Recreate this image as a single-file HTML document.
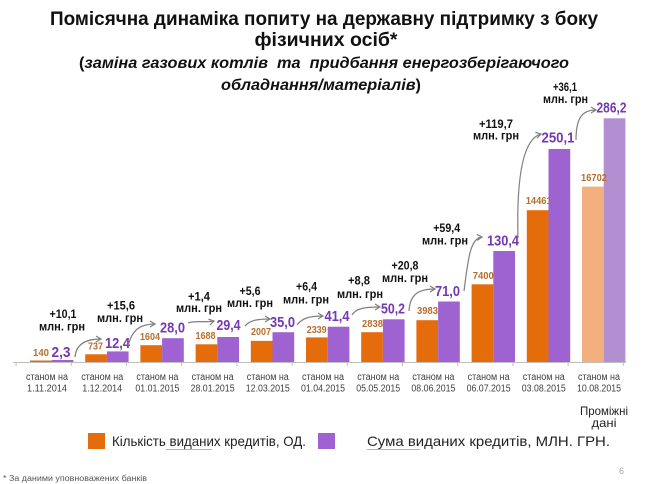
<!DOCTYPE html>
<html>
<head>
<meta charset="utf-8">
<style>
  html,body{margin:0;padding:0;background:#fff;}
  body{width:645px;height:484px;overflow:hidden;}
  svg{display:block;}
  text{font-family:"Liberation Sans","Noto Sans CJK SC",sans-serif;}
</style>
</head>
<body>
<svg width="645" height="484" viewBox="0 0 645 484" xmlns="http://www.w3.org/2000/svg">
  <defs>
    <marker id="ah" markerWidth="8" markerHeight="8" refX="6" refY="4" orient="auto" markerUnits="userSpaceOnUse">
      <path d="M1,1 L6,4 L1,7" fill="none" stroke="#7f7f7f" stroke-width="1.2"/>
    </marker>
  </defs>

  <!-- Title -->
  <text x="324" y="25" text-anchor="middle" font-size="19.5" font-weight="bold" fill="#111" textLength="548" lengthAdjust="spacingAndGlyphs">Помісячна динаміка попиту на державну підтримку з боку</text>
  <text x="326" y="46" text-anchor="middle" font-size="19.5" font-weight="bold" fill="#111" textLength="143" lengthAdjust="spacingAndGlyphs">фізичних осіб*</text>
  <text x="324" y="68" text-anchor="middle" font-size="16" font-weight="bold" fill="#111" textLength="490" lengthAdjust="spacingAndGlyphs">(<tspan font-style="italic">заміна газових котлів &#160;та &#160;придбання енергозберігаючого</tspan></text>
  <text x="321" y="90" text-anchor="middle" font-size="16" font-weight="bold" fill="#111" textLength="200" lengthAdjust="spacingAndGlyphs"><tspan font-style="italic">обладнання/матеріалів</tspan>)</text>

  <!-- Axis -->
  <g stroke="#bfbfbf" stroke-width="1">
    <line x1="13" y1="362.5" x2="626" y2="362.5"/>
    <line x1="16.1" y1="362" x2="16.1" y2="366"/>
    <line x1="71.3" y1="362" x2="71.3" y2="366"/>
    <line x1="126.5" y1="362" x2="126.5" y2="366"/>
    <line x1="181.7" y1="362" x2="181.7" y2="366"/>
    <line x1="236.9" y1="362" x2="236.9" y2="366"/>
    <line x1="292.1" y1="362" x2="292.1" y2="366"/>
    <line x1="347.3" y1="362" x2="347.3" y2="366"/>
    <line x1="402.5" y1="362" x2="402.5" y2="366"/>
    <line x1="457.7" y1="362" x2="457.7" y2="366"/>
    <line x1="512.9" y1="362" x2="512.9" y2="366"/>
    <line x1="568.1" y1="362" x2="568.1" y2="366"/>
    <line x1="623.3" y1="362" x2="623.3" y2="366"/>
  </g>

  <!-- Orange bars -->
  <g fill="#E46C0A">
    <rect x="30" y="360.5" width="21.7" height="1.5"/>
    <rect x="85.2" y="354.3" width="21.7" height="7.7"/>
    <rect x="140.4" y="345.2" width="21.7" height="16.8"/>
    <rect x="195.6" y="344.3" width="21.7" height="17.7"/>
    <rect x="250.8" y="340.9" width="21.7" height="21.1"/>
    <rect x="306" y="337.4" width="21.7" height="24.6"/>
    <rect x="361.2" y="332.2" width="21.7" height="29.8"/>
    <rect x="416.4" y="320.2" width="21.7" height="41.8"/>
    <rect x="471.6" y="284.3" width="21.7" height="77.7"/>
    <rect x="526.8" y="210.2" width="21.7" height="151.8"/>
  </g>
  <rect x="582" y="186.6" width="21.7" height="175.4" fill="#F3B07E"/>

  <!-- Purple bars -->
  <g fill="#9E63D0">
    <rect x="51.7" y="360" width="21.7" height="2"/>
    <rect x="106.9" y="351.4" width="21.7" height="10.6"/>
    <rect x="162.1" y="338.2" width="21.7" height="23.8"/>
    <rect x="217.3" y="337" width="21.7" height="25"/>
    <rect x="272.5" y="332.2" width="21.7" height="29.8"/>
    <rect x="327.7" y="326.7" width="21.7" height="35.3"/>
    <rect x="382.9" y="319.3" width="21.7" height="42.7"/>
    <rect x="438.1" y="301.5" width="21.7" height="60.5"/>
    <rect x="493.3" y="251" width="21.7" height="111"/>
    <rect x="548.5" y="149" width="21.7" height="213"/>
  </g>
  <rect x="603.7" y="118.3" width="21.7" height="243.7" fill="#B28FD1"/>

  <!-- Orange value labels -->
  <g font-size="10" font-weight="bold" fill="#B86E2A" text-anchor="middle">
    <text x="41" y="356" textLength="16" lengthAdjust="spacingAndGlyphs">140</text>
    <text x="95.5" y="349.5" textLength="15" lengthAdjust="spacingAndGlyphs">737</text>
    <text x="150" y="340" textLength="20" lengthAdjust="spacingAndGlyphs">1604</text>
    <text x="205.5" y="339" textLength="20" lengthAdjust="spacingAndGlyphs">1688</text>
    <text x="261" y="335" textLength="20" lengthAdjust="spacingAndGlyphs">2007</text>
    <text x="316.7" y="333" textLength="20" lengthAdjust="spacingAndGlyphs">2339</text>
    <text x="372.5" y="327" textLength="21" lengthAdjust="spacingAndGlyphs">2838</text>
    <text x="427.5" y="314" textLength="21" lengthAdjust="spacingAndGlyphs">3983</text>
    <text x="483.3" y="279" textLength="21" lengthAdjust="spacingAndGlyphs">7400</text>
    <text x="538.7" y="204" textLength="26" lengthAdjust="spacingAndGlyphs">14461</text>
    <text x="594" y="181" textLength="26" lengthAdjust="spacingAndGlyphs">16702</text>
  </g>

  <!-- Purple value labels -->
  <g font-size="14.5" font-weight="bold" fill="#7438B0" text-anchor="middle">
    <text x="61" y="357" textLength="19" lengthAdjust="spacingAndGlyphs">2,3</text>
    <text x="117.5" y="348" textLength="25" lengthAdjust="spacingAndGlyphs">12,4</text>
    <text x="172.5" y="332.5" textLength="25" lengthAdjust="spacingAndGlyphs">28,0</text>
    <text x="228.5" y="330" textLength="24" lengthAdjust="spacingAndGlyphs">29,4</text>
    <text x="282.5" y="327" textLength="25" lengthAdjust="spacingAndGlyphs">35,0</text>
    <text x="337" y="321" textLength="25" lengthAdjust="spacingAndGlyphs">41,4</text>
    <text x="393" y="313.5" textLength="24" lengthAdjust="spacingAndGlyphs">50,2</text>
    <text x="447.5" y="296" textLength="25" lengthAdjust="spacingAndGlyphs">71,0</text>
    <text x="503" y="245.5" textLength="32" lengthAdjust="spacingAndGlyphs">130,4</text>
    <text x="558" y="142.5" textLength="33" lengthAdjust="spacingAndGlyphs">250,1</text>
    <text x="611.5" y="112.5" textLength="30" lengthAdjust="spacingAndGlyphs">286,2</text>
  </g>

  <!-- Arrows -->
  <g fill="none" stroke="#7f7f7f" stroke-width="1.2" marker-end="url(#ah)">
    <path d="M75,357 C76,344 86,339 101,339"/>
    <path d="M128,346 C132,330 140,324 155,324"/>
    <path d="M188,323 C196,320 205,323 214,321"/>
    <path d="M245,326 C250,320 258,319 270,319"/>
    <path d="M297,325 C302,318 310,316 323,316"/>
    <path d="M352,315 C356,308 366,307 380,307"/>
    <path d="M409,311 C410,293 420,289 435,289"/>
    <path d="M464,291 C468,260 470,238 482,237"/>
    <path d="M518,238 C517,200 518,140 541,134"/>
    <path d="M576,140 C576,118 582,110 596,110"/>
  </g>

  <!-- Increment annotations -->
  <g font-size="12" font-weight="bold" fill="#111" text-anchor="middle">
    <text x="63" y="318" textLength="27" lengthAdjust="spacingAndGlyphs">+10,1</text>
    <text x="62" y="330.5" textLength="46" lengthAdjust="spacingAndGlyphs">млн. грн</text>
    <text x="121" y="309.5" textLength="28" lengthAdjust="spacingAndGlyphs">+15,6</text>
    <text x="120" y="322" textLength="46" lengthAdjust="spacingAndGlyphs">млн. грн</text>
    <text x="199" y="300.5" textLength="22" lengthAdjust="spacingAndGlyphs">+1,4</text>
    <text x="199" y="312" textLength="46" lengthAdjust="spacingAndGlyphs">млн. грн</text>
    <text x="250" y="295" textLength="21" lengthAdjust="spacingAndGlyphs">+5,6</text>
    <text x="250" y="307" textLength="46" lengthAdjust="spacingAndGlyphs">млн. грн</text>
    <text x="306.5" y="290.5" textLength="21" lengthAdjust="spacingAndGlyphs">+6,4</text>
    <text x="306" y="303.5" textLength="46" lengthAdjust="spacingAndGlyphs">млн. грн</text>
    <text x="359" y="284.5" textLength="22" lengthAdjust="spacingAndGlyphs">+8,8</text>
    <text x="360" y="298" textLength="46" lengthAdjust="spacingAndGlyphs">млн. грн</text>
    <text x="405" y="269.5" textLength="27" lengthAdjust="spacingAndGlyphs">+20,8</text>
    <text x="405" y="282" textLength="46" lengthAdjust="spacingAndGlyphs">млн. грн</text>
    <text x="446.7" y="232" textLength="27" lengthAdjust="spacingAndGlyphs">+59,4</text>
    <text x="445" y="244.5" textLength="46" lengthAdjust="spacingAndGlyphs">млн. грн</text>
    <text x="496" y="128" textLength="34" lengthAdjust="spacingAndGlyphs">+119,7</text>
    <text x="496" y="139.5" textLength="46" lengthAdjust="spacingAndGlyphs">млн. грн</text>
    <text x="565" y="91" textLength="24" lengthAdjust="spacingAndGlyphs">+36,1</text>
    <text x="565.5" y="103" textLength="45" lengthAdjust="spacingAndGlyphs">млн. грн</text>
  </g>

  <!-- Category labels -->
  <g font-size="10" fill="#404040" text-anchor="middle">
    <text x="47" y="380" textLength="42" lengthAdjust="spacingAndGlyphs">станом на</text>
    <text x="47" y="391.5" textLength="40" lengthAdjust="spacingAndGlyphs">1.11.2014</text>
    <text x="102.2" y="380" textLength="42" lengthAdjust="spacingAndGlyphs">станом на</text>
    <text x="102.2" y="391.5" textLength="40" lengthAdjust="spacingAndGlyphs">1.12.2014</text>
    <text x="157.4" y="380" textLength="42" lengthAdjust="spacingAndGlyphs">станом на</text>
    <text x="157.4" y="391.5" textLength="44" lengthAdjust="spacingAndGlyphs">01.01.2015</text>
    <text x="212.6" y="380" textLength="42" lengthAdjust="spacingAndGlyphs">станом на</text>
    <text x="212.6" y="391.5" textLength="44" lengthAdjust="spacingAndGlyphs">28.01.2015</text>
    <text x="267.8" y="380" textLength="42" lengthAdjust="spacingAndGlyphs">станом на</text>
    <text x="267.8" y="391.5" textLength="44" lengthAdjust="spacingAndGlyphs">12.03.2015</text>
    <text x="323" y="380" textLength="42" lengthAdjust="spacingAndGlyphs">станом на</text>
    <text x="323" y="391.5" textLength="44" lengthAdjust="spacingAndGlyphs">01.04.2015</text>
    <text x="378.2" y="380" textLength="42" lengthAdjust="spacingAndGlyphs">станом на</text>
    <text x="378.2" y="391.5" textLength="44" lengthAdjust="spacingAndGlyphs">05.05.2015</text>
    <text x="433.4" y="380" textLength="42" lengthAdjust="spacingAndGlyphs">станом на</text>
    <text x="433.4" y="391.5" textLength="44" lengthAdjust="spacingAndGlyphs">08.06.2015</text>
    <text x="488.6" y="380" textLength="42" lengthAdjust="spacingAndGlyphs">станом на</text>
    <text x="488.6" y="391.5" textLength="44" lengthAdjust="spacingAndGlyphs">06.07.2015</text>
    <text x="543.8" y="380" textLength="42" lengthAdjust="spacingAndGlyphs">станом на</text>
    <text x="543.8" y="391.5" textLength="44" lengthAdjust="spacingAndGlyphs">03.08.2015</text>
    <text x="599" y="380" textLength="42" lengthAdjust="spacingAndGlyphs">станом на</text>
    <text x="599" y="391.5" textLength="44" lengthAdjust="spacingAndGlyphs">10.08.2015</text>
  </g>

  <!-- Intermediate data note -->
  <g font-size="12" fill="#222" text-anchor="middle">
    <text x="604" y="415" textLength="48" lengthAdjust="spacingAndGlyphs">Проміжні</text>
    <text x="604" y="427" textLength="25" lengthAdjust="spacingAndGlyphs">дані</text>
  </g>

  <!-- Legend -->
  <rect x="88" y="433" width="17" height="16" fill="#E46C0A"/>
  <text x="112" y="446" font-size="14" fill="#222" textLength="194" lengthAdjust="spacingAndGlyphs">Кількість виданих кредитів, ОД.</text>
  <line x1="166" y1="449.5" x2="212" y2="449.5" stroke="#a9b5ae" stroke-width="1"/>
  <rect x="318" y="433" width="17" height="16" fill="#9E63D0"/>
  <text x="367" y="446" font-size="14" fill="#222" textLength="243" lengthAdjust="spacingAndGlyphs">Сума виданих кредитів, МЛН. ГРН.</text>
  <line x1="367" y1="449.5" x2="420" y2="449.5" stroke="#a9b5ae" stroke-width="1"/>

  <!-- Footer -->
  <text x="3" y="481" font-size="8" fill="#555" textLength="144" lengthAdjust="spacingAndGlyphs">* За даними уповноважених банків</text>
  <text x="619" y="474" font-size="9" fill="#aaa">6</text>
</svg>
</body>
</html>
